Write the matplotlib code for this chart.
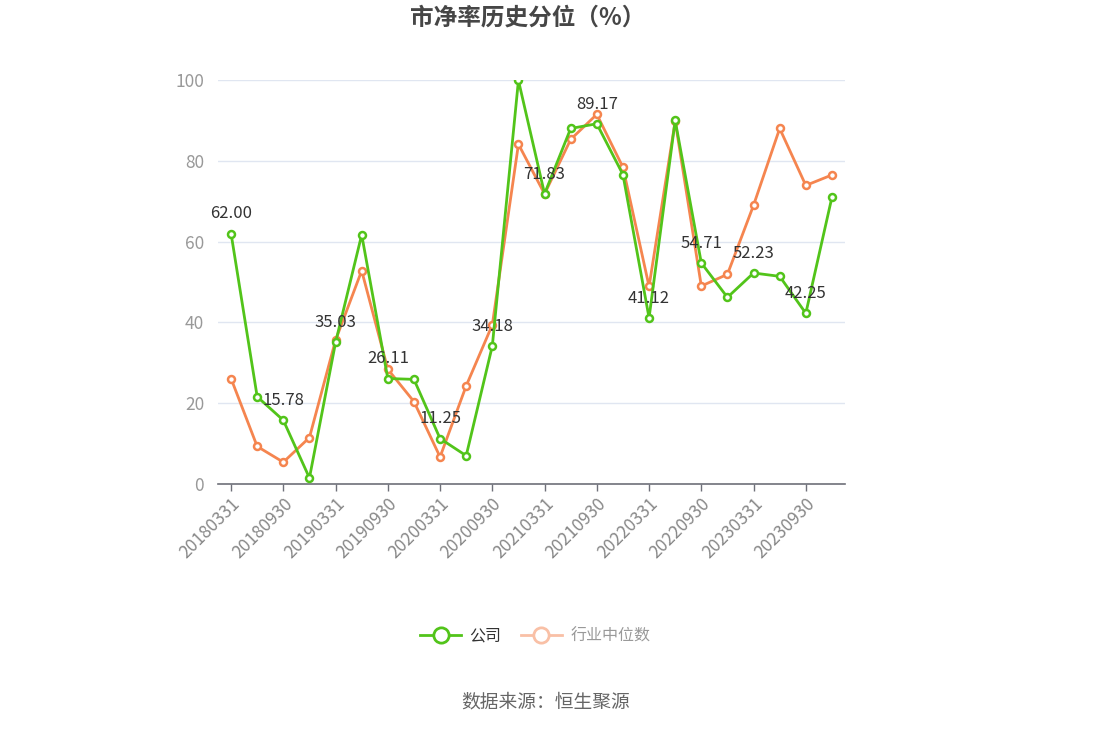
import matplotlib.pyplot as plt
from matplotlib.lines import Line2D

plt.rcParams['font.family'] = ['Noto Sans CJK SC', 'DejaVu Sans']

# quarterly report dates
dates = []
for yr in range(2018, 2024):
    for md in ['0331', '0630', '0930', '1231']:
        dates.append(f'{yr}{md}')

company = [62.00, 21.6, 15.78, 1.5, 35.03, 61.7, 26.11, 25.9, 11.25, 7.0, 34.18, 99.9,
           71.83, 88.0, 89.17, 76.6, 41.12, 90.0, 54.71, 46.2, 52.23, 51.4, 42.25, 71.0]
industry = [26.1, 9.3, 5.4, 11.5, 35.6, 52.8, 28.4, 20.4, 6.7, 24.3, 39.4, 84.1,
            71.8, 85.3, 91.5, 78.4, 48.9, 89.8, 49.0, 51.9, 69.0, 88.0, 73.9, 76.5]

green = '#52c41a'
orange = '#f5854f'

fig = plt.figure(figsize=(10.93, 7.29), dpi=100)
ax = fig.add_axes([218 / 1093, 245 / 729, 627 / 1093, 404 / 729])

x = list(range(len(dates)))
ax.plot(x, industry, color=orange, lw=2, marker='o', ms=5, mfc='white',
        mec=orange, mew=1.8, zorder=3)
ax.plot(x, company, color=green, lw=2, marker='o', ms=5, mfc='white',
        mec=green, mew=1.8, zorder=4)

for i in range(0, len(dates), 2):
    ax.annotate(f'{company[i]:.2f}', (i, company[i]), xytext=(0, 8),
                textcoords='offset points', ha='center', va='bottom',
                fontsize=12, color='#333333', zorder=5)

ax.set_xlim(-0.5, len(dates) - 0.5)
ax.set_ylim(0, 100)
ax.set_yticks([0, 20, 40, 60, 80, 100])
ax.set_xticks(x[::2])
ax.set_xticklabels(dates[::2], rotation=45, ha='right', rotation_mode='anchor')
ax.tick_params(axis='x', colors='#6e7079', labelcolor='#888888', labelsize=12.5,
               length=5, width=1, pad=3)
ax.tick_params(axis='y', length=0, labelcolor='#999999', labelsize=12.5, pad=10)
ax.grid(axis='y', color='#e0e6f1', lw=1)
ax.set_axisbelow(True)
for s in ['top', 'right', 'left']:
    ax.spines[s].set_visible(False)
ax.spines['bottom'].set_color('#6e7079')
ax.spines['bottom'].set_linewidth(1.2)

fig.text(528 / 1093, 1 - 18 / 729, '市净率历史分位（%）', ha='center', va='center',
         fontsize=17, fontweight='bold', color='#464646')

handles = [
    Line2D([0], [0], color=green, lw=2, marker='o', ms=11, mfc='white', mec=green, mew=2),
    Line2D([0], [0], color='#f9c0a6', lw=2, marker='o', ms=11, mfc='white', mec='#f9c0a6', mew=2),
]
leg = fig.legend(handles, ['公司', '行业中位数'], loc='center', bbox_to_anchor=(535 / 1093, 1 - 636 / 729),
                 ncol=2, frameon=False, fontsize=11.5, handlelength=2.6, columnspacing=1.2,
                 handletextpad=0.5)
leg.get_texts()[0].set_color('#333333')
leg.get_texts()[1].set_color('#999999')

fig.text(546 / 1093, 1 - 702 / 729, '数据来源：恒生聚源', ha='center', va='center',
         fontsize=13.5, color='#666666')

fig.savefig('out.png', dpi=100)
